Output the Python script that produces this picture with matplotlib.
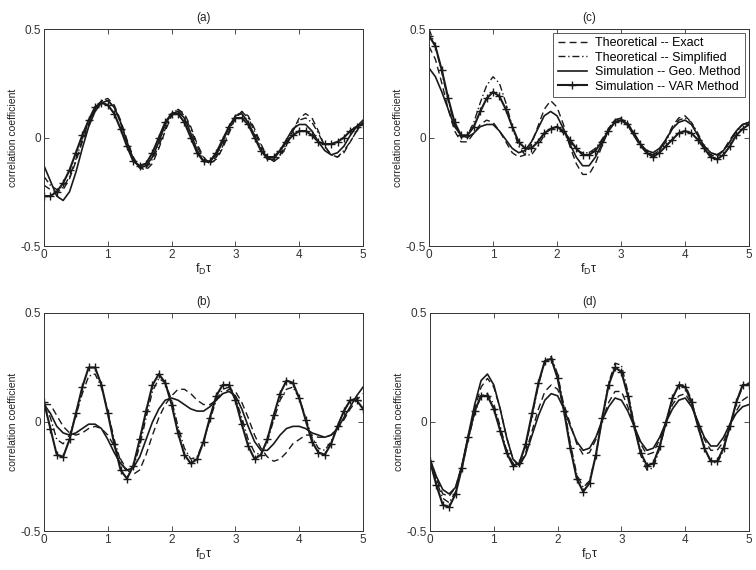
import matplotlib
matplotlib.use("Agg")
import matplotlib.pyplot as plt
import numpy as np

plt.rcParams["font.family"] = ["Liberation Sans", "DejaVu Sans"]
plt.rcParams["mathtext.fontset"] = "custom"
plt.rcParams["mathtext.rm"] = "Liberation Sans"

# eje x comun: f_D * tau, paso 0.1
X = np.linspace(0, 5, 51)

NOMBRES = [
    "Theoretical -- Exact",
    "Theoretical -- Simplified",
    "Simulation -- Geo. Method",
    "Simulation -- VAR Method",
]

# (a)
A_EXACTA = [-0.22, -0.24, -0.25, -0.24, -0.19, -0.11, -0.02, 0.06, 0.13, 0.17,
            0.18, 0.15, 0.08, -0.01, -0.09, -0.14, -0.15, -0.12, -0.05, 0.03,
            0.10, 0.13, 0.11, 0.05, -0.03, -0.09, -0.12, -0.10, -0.05, 0.02,
            0.09, 0.12, 0.10, 0.04, -0.03, -0.09, -0.11, -0.09, -0.04, 0.03,
            0.09, 0.11, 0.09, 0.03, -0.04, -0.08, -0.09, -0.07, -0.02, 0.03,
            0.07]
A_SIMPLIF = [-0.18, -0.22, -0.24, -0.23, -0.18, -0.10, -0.01, 0.07, 0.13, 0.17,
             0.17, 0.14, 0.07, -0.02, -0.10, -0.14, -0.14, -0.10, -0.04, 0.04,
             0.11, 0.13, 0.10, 0.04, -0.04, -0.10, -0.12, -0.09, -0.04, 0.03,
             0.10, 0.12, 0.09, 0.03, -0.04, -0.09, -0.11, -0.08, -0.03, 0.03,
             0.08, 0.09, 0.07, 0.02, -0.04, -0.08, -0.09, -0.06, -0.02, 0.03,
             0.07]
A_GEO = [-0.13, -0.20, -0.27, -0.29, -0.25, -0.16, -0.05, 0.05, 0.12, 0.16,
         0.17, 0.14, 0.07, -0.02, -0.10, -0.14, -0.13, -0.09, -0.02, 0.06,
         0.11, 0.12, 0.09, 0.02, -0.06, -0.11, -0.11, -0.08, -0.02, 0.05,
         0.10, 0.11, 0.07, 0.01, -0.06, -0.10, -0.10, -0.06, -0.01, 0.04,
         0.06, 0.06, 0.03, -0.02, -0.06, -0.08, -0.07, -0.04, 0.01, 0.05,
         0.08]
A_VAR = [-0.27, -0.27, -0.25, -0.21, -0.15, -0.07, 0.01, 0.08, 0.14, 0.16,
         0.15, 0.11, 0.04, -0.04, -0.11, -0.13, -0.12, -0.07, 0.00, 0.07,
         0.11, 0.11, 0.07, 0.00, -0.07, -0.11, -0.11, -0.07, -0.01, 0.05,
         0.09, 0.09, 0.06, 0.00, -0.06, -0.09, -0.09, -0.06, -0.02, 0.01,
         0.03, 0.03, 0.01, -0.02, -0.03, -0.03, -0.02, 0.00, 0.03, 0.05,
         0.06]

# (b)
B_EXACTA = [0.08, 0.08, 0.03, -0.02, -0.05, -0.06, -0.05, -0.03, -0.02, -0.03,
            -0.06, -0.11, -0.17, -0.22, -0.24, -0.22, -0.15, -0.06, 0.02, 0.08,
            0.12, 0.15, 0.15, 0.13, 0.10, 0.08, 0.08, 0.10, 0.13, 0.15,
            0.14, 0.09, 0.02, -0.06, -0.12, -0.16, -0.18, -0.17, -0.14, -0.10,
            -0.08, -0.06, -0.06, -0.07, -0.07, -0.06, -0.03, 0.01, 0.06, 0.10,
            0.13]
B_SIMPLIF = [0.09, 0.02, -0.08, -0.10, -0.06, 0.03, 0.13, 0.21, 0.22, 0.16,
             0.05, -0.08, -0.18, -0.23, -0.21, -0.11, 0.02, 0.14, 0.20, 0.18,
             0.10, -0.02, -0.12, -0.17, -0.16, -0.09, 0.01, 0.10, 0.15, 0.16,
             0.11, 0.02, -0.08, -0.14, -0.15, -0.09, 0.01, 0.10, 0.15, 0.16,
             0.11, 0.02, -0.07, -0.12, -0.13, -0.09, -0.02, 0.05, 0.10, 0.11,
             0.09]
B_GEO = [0.08, 0.04, -0.02, -0.05, -0.06, -0.05, -0.03, -0.01, -0.01, -0.03,
         -0.08, -0.14, -0.19, -0.22, -0.21, -0.16, -0.08, 0.00, 0.06, 0.10,
         0.11, 0.10, 0.08, 0.06, 0.05, 0.05, 0.07, 0.10, 0.13, 0.14,
         0.12, 0.06, -0.02, -0.09, -0.13, -0.13, -0.10, -0.06, -0.03, -0.02,
         -0.02, -0.03, -0.05, -0.06, -0.07, -0.06, -0.03, 0.02, 0.07, 0.12,
         0.16]
B_VAR = [0.09, -0.03, -0.15, -0.16, -0.08, 0.04, 0.16, 0.25, 0.25, 0.17,
         0.04, -0.10, -0.22, -0.26, -0.20, -0.08, 0.05, 0.17, 0.22, 0.18,
         0.08, -0.05, -0.15, -0.19, -0.17, -0.09, 0.02, 0.12, 0.17, 0.17,
         0.10, -0.01, -0.11, -0.17, -0.15, -0.08, 0.03, 0.13, 0.19, 0.18,
         0.11, 0.01, -0.09, -0.14, -0.15, -0.10, -0.02, 0.05, 0.10, 0.10,
         0.06]

# (c)
C_EXACTA = [0.42, 0.36, 0.25, 0.13, 0.03, -0.02, -0.02, 0.02, 0.06, 0.08,
            0.07, 0.03, -0.02, -0.07, -0.09, -0.08, -0.03, 0.05, 0.13, 0.17,
            0.14, 0.06, -0.04, -0.12, -0.17, -0.17, -0.12, -0.04, 0.03, 0.08,
            0.09, 0.06, 0.01, -0.04, -0.07, -0.08, -0.06, -0.01, 0.05, 0.09,
            0.10, 0.07, 0.01, -0.05, -0.08, -0.09, -0.06, -0.01, 0.03, 0.06,
            0.07]
C_SIMPLIF = [0.50, 0.42, 0.30, 0.17, 0.06, 0.00, 0.01, 0.07, 0.16, 0.24,
             0.28, 0.25, 0.16, 0.05, -0.04, -0.08, -0.08, -0.04, 0.01, 0.04,
             0.05, 0.02, -0.02, -0.06, -0.07, -0.07, -0.05, -0.01, 0.04, 0.08,
             0.09, 0.07, 0.02, -0.03, -0.07, -0.08, -0.06, -0.02, 0.04, 0.08,
             0.09, 0.07, 0.02, -0.04, -0.07, -0.08, -0.06, -0.02, 0.03, 0.06,
             0.07]
C_GEO = [0.32, 0.28, 0.21, 0.13, 0.05, 0.01, 0.00, 0.02, 0.05, 0.06,
         0.06, 0.03, -0.01, -0.05, -0.07, -0.06, -0.02, 0.04, 0.10, 0.12,
         0.10, 0.04, -0.03, -0.09, -0.13, -0.13, -0.09, -0.03, 0.03, 0.07,
         0.08, 0.06, 0.01, -0.03, -0.06, -0.07, -0.05, -0.01, 0.04, 0.07,
         0.08, 0.06, 0.01, -0.04, -0.07, -0.08, -0.06, -0.02, 0.03, 0.06,
         0.07]
C_VAR = [0.47, 0.42, 0.31, 0.18, 0.07, 0.01, 0.01, 0.05, 0.12, 0.18,
         0.21, 0.19, 0.13, 0.05, -0.02, -0.05, -0.05, -0.02, 0.02, 0.04,
         0.05, 0.03, -0.01, -0.05, -0.08, -0.08, -0.06, -0.02, 0.03, 0.07,
         0.08, 0.06, 0.02, -0.03, -0.07, -0.09, -0.07, -0.04, -0.01, 0.02,
         0.03, 0.02, -0.01, -0.05, -0.09, -0.10, -0.08, -0.04, 0.01, 0.04,
         0.06]

# (d)
D_EXACTA = [-0.17, -0.26, -0.33, -0.34, -0.30, -0.20, -0.07, 0.06, 0.16, 0.20,
            0.16, 0.06, -0.07, -0.17, -0.20, -0.14, -0.04, 0.06, 0.14, 0.17,
            0.15, 0.08, -0.01, -0.10, -0.15, -0.14, -0.08, 0.01, 0.09, 0.14,
            0.14, 0.07, -0.02, -0.10, -0.15, -0.14, -0.08, 0.00, 0.08, 0.12,
            0.13, 0.08, 0.00, -0.08, -0.13, -0.13, -0.09, -0.02, 0.05, 0.10,
            0.12]
D_SIMPLIF = [-0.17, -0.27, -0.35, -0.37, -0.32, -0.21, -0.08, 0.04, 0.12, 0.13,
             0.08, -0.02, -0.13, -0.19, -0.19, -0.11, 0.03, 0.17, 0.28, 0.30,
             0.22, 0.07, -0.10, -0.24, -0.30, -0.27, -0.15, 0.02, 0.18, 0.27,
             0.26, 0.14, -0.01, -0.15, -0.22, -0.21, -0.12, 0.00, 0.11, 0.17,
             0.17, 0.10, -0.02, -0.12, -0.18, -0.19, -0.13, -0.02, 0.09, 0.16,
             0.18]
D_GEO = [-0.17, -0.25, -0.31, -0.33, -0.30, -0.20, -0.06, 0.08, 0.19, 0.22,
         0.17, 0.06, -0.07, -0.17, -0.20, -0.15, -0.06, 0.03, 0.10, 0.13,
         0.12, 0.06, -0.02, -0.09, -0.13, -0.12, -0.07, 0.01, 0.07, 0.11,
         0.10, 0.05, -0.02, -0.09, -0.13, -0.12, -0.07, 0.00, 0.06, 0.10,
         0.11, 0.07, 0.00, -0.07, -0.11, -0.11, -0.07, -0.01, 0.04, 0.07,
         0.08]
D_VAR = [-0.18, -0.29, -0.38, -0.39, -0.33, -0.21, -0.07, 0.05, 0.12, 0.12,
         0.06, -0.04, -0.14, -0.20, -0.19, -0.10, 0.04, 0.18, 0.28, 0.29,
         0.20, 0.05, -0.12, -0.26, -0.32, -0.28, -0.15, 0.02, 0.17, 0.25,
         0.23, 0.12, -0.02, -0.14, -0.20, -0.19, -0.11, 0.00, 0.11, 0.17,
         0.16, 0.09, -0.02, -0.12, -0.18, -0.18, -0.12, -0.02, 0.09, 0.17,
         0.17]

PANELES = {
    "(a)": (A_EXACTA, A_SIMPLIF, A_GEO, A_VAR),
    "(b)": (B_EXACTA, B_SIMPLIF, B_GEO, B_VAR),
    "(c)": (C_EXACTA, C_SIMPLIF, C_GEO, C_VAR),
    "(d)": (D_EXACTA, D_SIMPLIF, D_GEO, D_VAR),
}

POSICIONES = {
    "(a)": [0.0582, 0.5684, 0.4220, 0.3807],
    "(c)": [0.5675, 0.5684, 0.4233, 0.3807],
    "(b)": [0.0582, 0.0684, 0.4220, 0.3825],
    "(d)": [0.5688, 0.0684, 0.4220, 0.3825],
}

COLOR = "#1a1a1a"


def DibujarPanel(fig, titulo, series, conLeyenda=False):
    ax = fig.add_axes(POSICIONES[titulo])
    exacta, simplif, geo, var = series

    ax.plot(X, exacta, color=COLOR, lw=1.0, ls=(0, (5, 3)), label=NOMBRES[0])
    ax.plot(X, simplif, color=COLOR, lw=1.0, ls=(0, (5, 2, 1, 2)), label=NOMBRES[1])
    ax.plot(X, geo, color=COLOR, lw=1.2, ls="-", label=NOMBRES[2])
    ax.plot(X, var, color=COLOR, lw=1.5, ls="-", marker="+", ms=6, mew=1.0,
            label=NOMBRES[3])

    ax.set_xlim(0, 5)
    ax.set_ylim(-0.5, 0.5)
    ax.set_xticks([0, 1, 2, 3, 4, 5])
    ax.set_yticks([-0.5, 0, 0.5])
    ax.set_yticklabels(["-0.5", "0", "0.5"])
    ax.tick_params(direction="in", top=True, right=True, length=3.5, width=0.6,
                   labelsize=8.5, pad=2, colors="#333333")
    for lado in ax.spines.values():
        lado.set_linewidth(0.7)
        lado.set_color("#333333")

    ax.set_title(titulo, fontsize=8.5, pad=6, color="#222222")
    ax.set_xlabel(r"$\mathregular{f_D\tau}$", fontsize=9, labelpad=1, color="#222222")
    ax.set_ylabel("correlation coefficient", fontsize=7.5, labelpad=2, color="#222222")

    if conLeyenda:
        ley = ax.legend(loc="upper right", fontsize=9, handlelength=2.3,
                        labelspacing=0.2, borderpad=0.35, handletextpad=0.7,
                        frameon=True, fancybox=False, borderaxespad=0.3)
        ley.get_frame().set_edgecolor("#333333")
        ley.get_frame().set_linewidth(0.7)
    return ax


fig = plt.figure(figsize=(7.56, 5.70), dpi=100)

for titulo, series in PANELES.items():
    DibujarPanel(fig, titulo, series, conLeyenda=(titulo == "(c)"))

fig.savefig("out.png", dpi=100, facecolor="white")
